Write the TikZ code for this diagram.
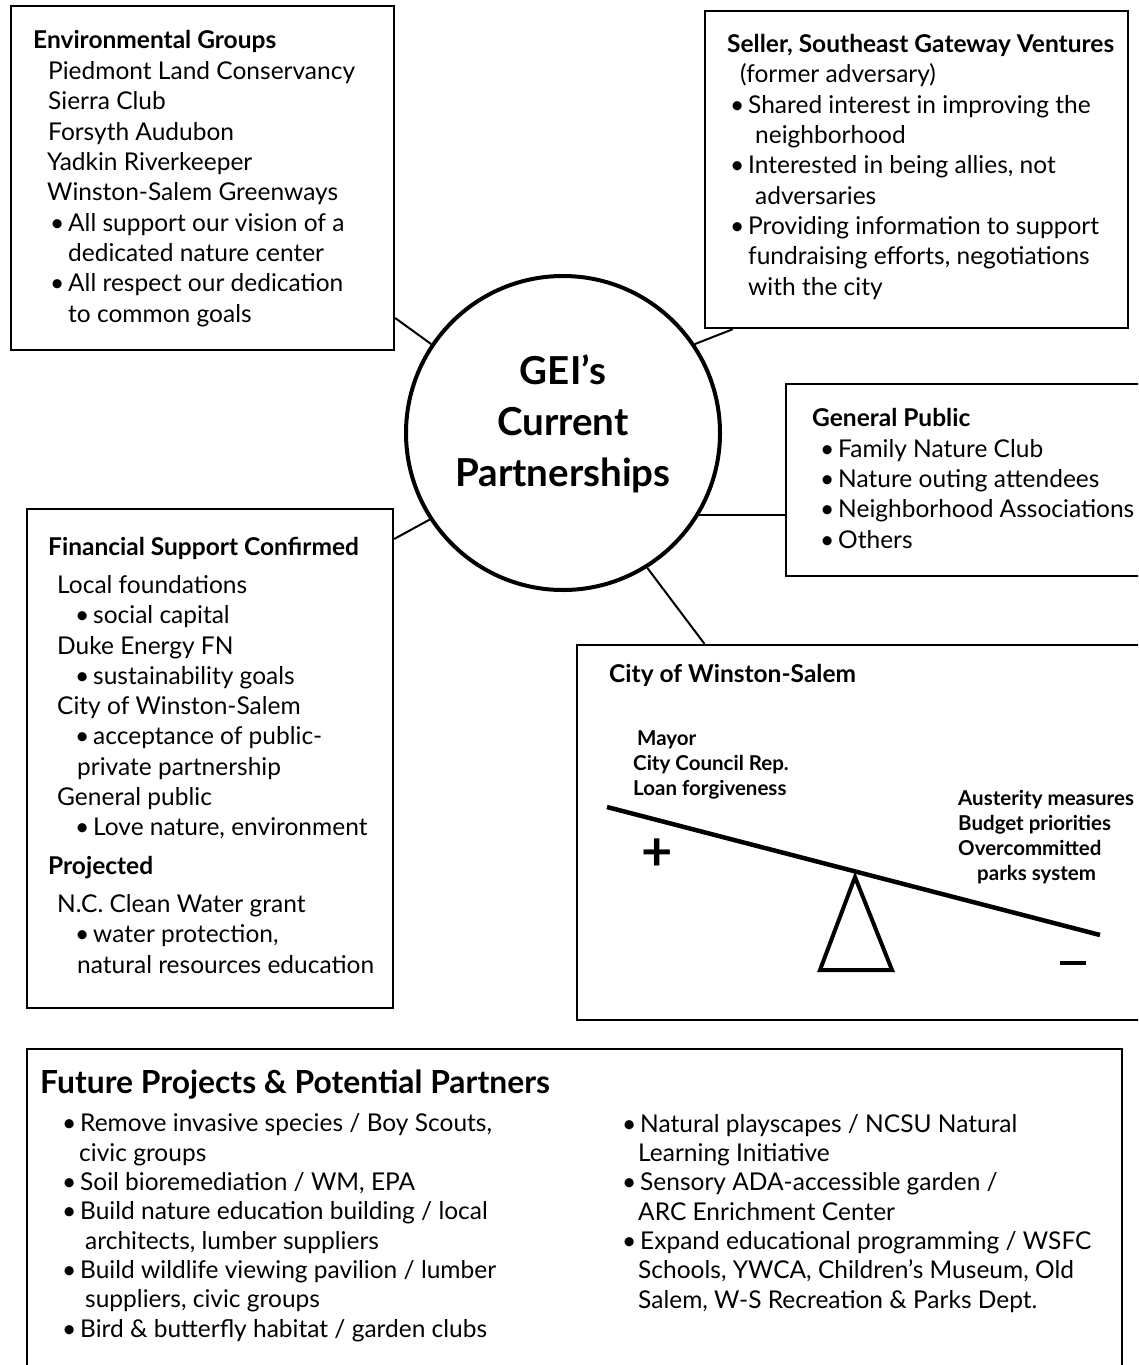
\documentclass[tikz,border=0pt]{standalone}
\usepackage{fontspec}
\setmainfont{Lato}
\usepackage{tikz}
\usetikzlibrary{positioning}

\newcommand{\bodyfont}{\fontsize{24.5}{30.3}\selectfont}
\newcommand{\smallbold}{\fontsize{20.5}{25}\selectfont\bfseries}
\newcommand{\bul}{\makebox[18pt][l]{\textbullet}}

\begin{document}
\begin{tikzpicture}[x=1pt, y=-1pt,
  panel/.style={draw, line width=2.4pt, inner sep=0pt},
  % blurbs are pinned by the baseline of their last line
  blurb/.style={anchor=base west, align=left, inner sep=0pt, font=\bodyfont},
  link/.style={line width=2pt},
  hub/.style={circle, draw, line width=4pt, minimum size=314pt}]

\useasboundingbox (0,0) rectangle (1138,1365);
\clip (0,0) rectangle (1138,1365);

% Centre circle
\node[hub] (hub) at (563,433) {};
\node[align=center, font=\fontsize{38.5}{51}\selectfont\bfseries] (hubtitle)
  at (563,424) {GEI’s\\Current\\Partnerships};

% ---- Boxes ----
\node[panel, minimum width=383, minimum height=344] (envbox) at (202.5,178) {};
\node[panel, minimum width=423, minimum height=317] (sellerbox) at (916.5,169.5) {};
\node[panel, minimum width=374, minimum height=192] (pubbox) at (973,480) {};
\node[panel, minimum width=366, minimum height=499] (finbox) at (210,758.5) {};
\node[panel, minimum width=583, minimum height=375] (citybox) at (868.5,832.5) {};
\node[panel, minimum width=1095, minimum height=351] (futbox) at (574.5,1224.5) {};

% Spokes
\draw[link] (envbox.-36) -- (hub.146);
\draw[link] (sellerbox.221) -- (hub.34);
\draw[link] (hub.-31) -- (hub.-31 -| pubbox.west);
\draw[link] (citybox.131) -- (hub.-58);
\draw[link] (finbox.50) -- (hub.213);

% Environmental groups
\node[blurb] (envtext) at (33,322) {\textbf{Environmental Groups}\\[1pt]
  \hspace*{15pt}Piedmont Land Conservancy\\
  \hspace*{15pt}Sierra Club\\
  \hspace*{15pt}Forsyth Audubon\\
  \hspace*{14pt}Yadkin Riverkeeper\\
  \hspace*{14pt}Winston-Salem Greenways\\
  \hspace*{17pt}\bul All support our vision of a\\
  \hspace*{35pt}dedicated nature center\\
  \hspace*{17pt}\bul All respect our dedication\\
  \hspace*{35pt}to common goals};

% Seller
\node[blurb] (sellertext) at (727,295) {\textbf{Seller, Southeast Gateway Ventures}\\
  \hspace*{13pt}(former adversary)\\
  \hspace*{3pt}\bul Shared interest in improving the\\
  \hspace*{28pt}neighborhood\\
  \hspace*{3pt}\bul Interested in being allies, not\\
  \hspace*{28pt}adversaries\\
  \hspace*{3pt}\bul Providing information to support\\
  \hspace*{21pt}fundraising efforts, negotiations\\
  \hspace*{21pt}with the city};

% General public
\node[blurb] (pubtext) at (812,548) {\textbf{General Public}\\
  \hspace*{8pt}\bul Family Nature Club\\
  \hspace*{8pt}\bul Nature outing attendees\\
  \hspace*{8pt}\bul Neighborhood Associations\\
  \hspace*{8pt}\bul Others};

% Financial support
\node[blurb] (fintext) at (48,973) {\textbf{Financial Support Confirmed}\\[8pt]
  \hspace*{9pt}Local foundations\\
  \hspace*{27pt}\bul social capital\\
  \hspace*{9pt}Duke Energy FN\\
  \hspace*{27pt}\bul sustainability goals\\
  \hspace*{9pt}City of Winston-Salem\\
  \hspace*{27pt}\bul acceptance of public-\\
  \hspace*{29pt}private partnership\\
  \hspace*{9pt}General public\\
  \hspace*{27pt}\bul Love nature, environment\\[8pt]
  \textbf{Projected}\\[8pt]
  \hspace*{9pt}N.C. Clean Water grant\\
  \hspace*{27pt}\bul water protection,\\
  \hspace*{29pt}natural resources education};

% ---- City of Winston-Salem: the balance ----
\node[blurb] (citytext) at (609,682) {\textbf{City of Winston-Salem}};
\node[blurb, font=\smallbold] (protext) at (633,795) {\hspace*{4pt}Mayor\\
  City Council Rep.\\ Loan forgiveness};
\node[blurb, font=\smallbold] (context) at (958,880) {Austerity measures\\
  Budget priorities\\ Overcommitted\\ \hspace*{19pt}parks system};
\draw[line width=4.5pt] (607,807) -- (1100,935);
\draw[line width=4pt, line join=miter] (855,877) -- (892,970) -- (820,970) -- cycle;
\node[font=\fontsize{54}{54}\selectfont\bfseries] (plus) at (657,855) {+};
\node[inner sep=0pt] (minus) at (1073,963) {\rule{26pt}{4.5pt}};

% ---- Future projects ----
\node[blurb, font=\fontsize{31.8}{36}\selectfont\bfseries] (futhead) at (40,1093)
  {Future Projects \& Potential Partners};
\node[blurb, font=\fontsize{24.5}{29.3}\selectfont] (futleft) at (62,1337)
  {\bul Remove invasive species / Boy Scouts,\\
  \hspace*{17pt}civic groups\\
  \bul Soil bioremediation / WM, EPA\\
  \bul Build nature education building / local\\
  \hspace*{23pt}architects, lumber suppliers\\
  \bul Build wildlife viewing pavilion / lumber\\
  \hspace*{23pt}suppliers, civic groups\\
  \bul Bird \& butterfly habitat / garden clubs};
\node[blurb, font=\fontsize{24.5}{29.3}\selectfont] (futright) at (622,1308)
  {\bul Natural playscapes / NCSU Natural\\
  \hspace*{16pt}Learning Initiative\\
  \bul Sensory ADA-accessible garden /\\
  \hspace*{16pt}ARC Enrichment Center\\
  \bul Expand educational programming / WSFC\\
  \hspace*{16pt}Schools, YWCA, Children’s Museum, Old\\
  \hspace*{16pt}Salem, W-S Recreation \& Parks Dept.};

\end{tikzpicture}
\end{document}
